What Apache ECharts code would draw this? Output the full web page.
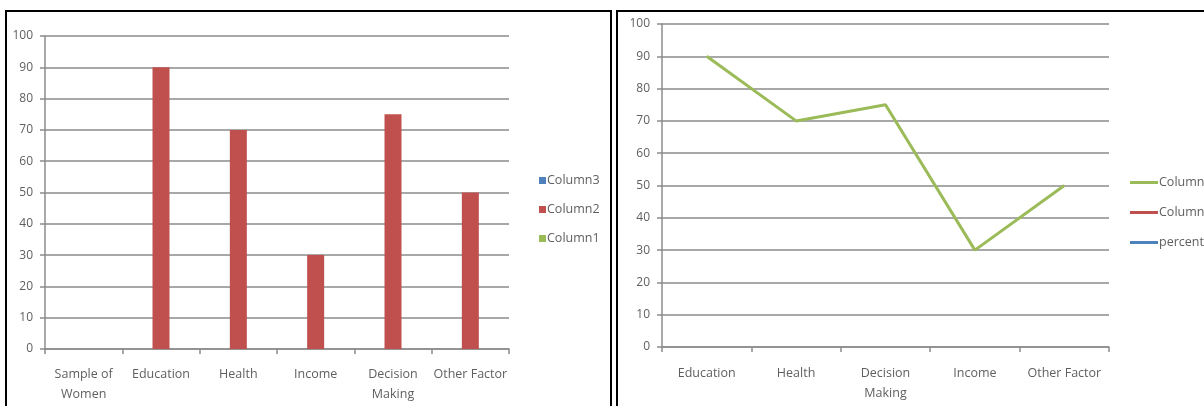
<!DOCTYPE html>
<html>
<head>
<meta charset="utf-8">
<script src="https://cdn.jsdelivr.net/npm/echarts@6/dist/echarts.min.js"></script>
<style>
  html, body { margin: 0; padding: 0; background: #fff; }
  #chart { width: 1204px; height: 406px; }
</style>
</head>
<body>
<div id="chart"></div>
<script>
// Bar panel: factors studied for the sample of women
const barCategories = ['Sample of\nWomen', 'Education', 'Health', 'Income', 'Decision\nMaking', 'Other Factor'];
const barColumn1 = [null, null, null, null, null, null];
const barColumn2 = [null, 90, 70, 30, 75, 50];
const barColumn3 = [null, null, null, null, null, null];

// Line panel: the same factors without the sample column
const lineCategories = ['Education', 'Health', 'Decision\nMaking', 'Income', 'Other Factor'];
const lineColumn1 = [90, 70, 75, 30, 50];
const lineColumn2 = [null, null, null, null, null];
const linePercent = [null, null, null, null, null];

const yTicks = { min: 0, max: 100, interval: 10 };

const FONT = '"Open Sans", "Liberation Sans", sans-serif';
const TEXT = '#5f5f5f';
const GRID = '#a8a8a8';
const AXIS = '#8c8c8c';
const BLUE = '#4F81BD', RED = '#C0504D', GREEN = '#9BBB59';

function valueAxis(gridIndex) {
  return {
    type: 'value', gridIndex,
    min: yTicks.min, max: yTicks.max, interval: yTicks.interval,
    axisLine: { show: true, lineStyle: { color: AXIS, width: 1.5 } },
    axisTick: { show: true, length: 5, lineStyle: { color: AXIS, width: 1.5 } },
    axisLabel: { color: TEXT, fontFamily: FONT, fontSize: 12, margin: 12 },
    splitLine: { show: true, lineStyle: { color: GRID, width: 2 } }
  };
}

function categoryAxis(gridIndex, data, margin) {
  return {
    type: 'category', gridIndex, data,
    boundaryGap: true,
    axisLine: { show: true, lineStyle: { color: AXIS, width: 1.5 } },
    axisTick: { show: true, alignWithLabel: false, length: 5, lineStyle: { color: AXIS, width: 1.5 } },
    axisLabel: { color: TEXT, fontFamily: FONT, fontSize: 12.5, lineHeight: 20, margin, interval: 0 },
    splitLine: { show: false }
  };
}

function legendEntry(name, left, top, line) {
  return {
    show: true, orient: 'vertical', left, top,
    data: [name], selectedMode: false,
    icon: 'rect',
    itemWidth: line ? 28 : 7, itemHeight: line ? 3 : 7,
    itemGap: 0, padding: 0,
    textStyle: { color: TEXT, fontFamily: FONT, fontSize: 12.5, padding: [0, 0, 0, -4] }
  };
}

const chart = echarts.init(document.getElementById('chart'), null, { renderer: 'canvas' });

chart.setOption({
  animation: false,
  backgroundColor: '#fff',
  grid: [
    { left: 45, top: 36, width: 464, height: 313 },
    { left: 662, top: 24, width: 447, height: 323 }
  ],
  xAxis: [
    categoryAxis(0, barCategories, 15),
    categoryAxis(1, lineCategories, 16)
  ],
  yAxis: [valueAxis(0), valueAxis(1)],
  legend: [
    legendEntry('Column3', 539, 174, false),
    legendEntry('Column2', 539, 203, false),
    legendEntry('Column1', 539, 232, false),
    legendEntry('Column1 ', 1130, 176, true),
    legendEntry('Column2 ', 1130, 206, true),
    legendEntry('percentage', 1130, 236, true)
  ],
  series: [
    { name: 'Column1', type: 'bar', xAxisIndex: 0, yAxisIndex: 0, data: barColumn1,
      barWidth: 17, barGap: '0%', itemStyle: { color: GREEN } },
    { name: 'Column2', type: 'bar', xAxisIndex: 0, yAxisIndex: 0, data: barColumn2,
      barWidth: 17, barGap: '0%', itemStyle: { color: RED } },
    { name: 'Column3', type: 'bar', xAxisIndex: 0, yAxisIndex: 0, data: barColumn3,
      barWidth: 17, barGap: '0%', itemStyle: { color: BLUE } },
    { name: 'Column1 ', type: 'line', xAxisIndex: 1, yAxisIndex: 1, data: lineColumn1,
      showSymbol: false, lineStyle: { color: GREEN, width: 3 }, itemStyle: { color: GREEN } },
    { name: 'Column2 ', type: 'line', xAxisIndex: 1, yAxisIndex: 1, data: lineColumn2,
      showSymbol: false, lineStyle: { color: RED, width: 3 }, itemStyle: { color: RED } },
    { name: 'percentage', type: 'line', xAxisIndex: 1, yAxisIndex: 1, data: linePercent,
      showSymbol: false, lineStyle: { color: BLUE, width: 3 }, itemStyle: { color: BLUE } }
  ],
  graphic: [
    // black frames around each panel
    { type: 'rect', silent: true, z: 100,
      shape: { x: 6, y: 11, width: 605, height: 420 },
      style: { fill: 'none', stroke: '#000', lineWidth: 2 } },
    { type: 'rect', silent: true, z: 100,
      shape: { x: 617, y: 11, width: 620, height: 420 },
      style: { fill: 'none', stroke: '#000', lineWidth: 2 } }
  ]
});
</script>
</body>
</html>
